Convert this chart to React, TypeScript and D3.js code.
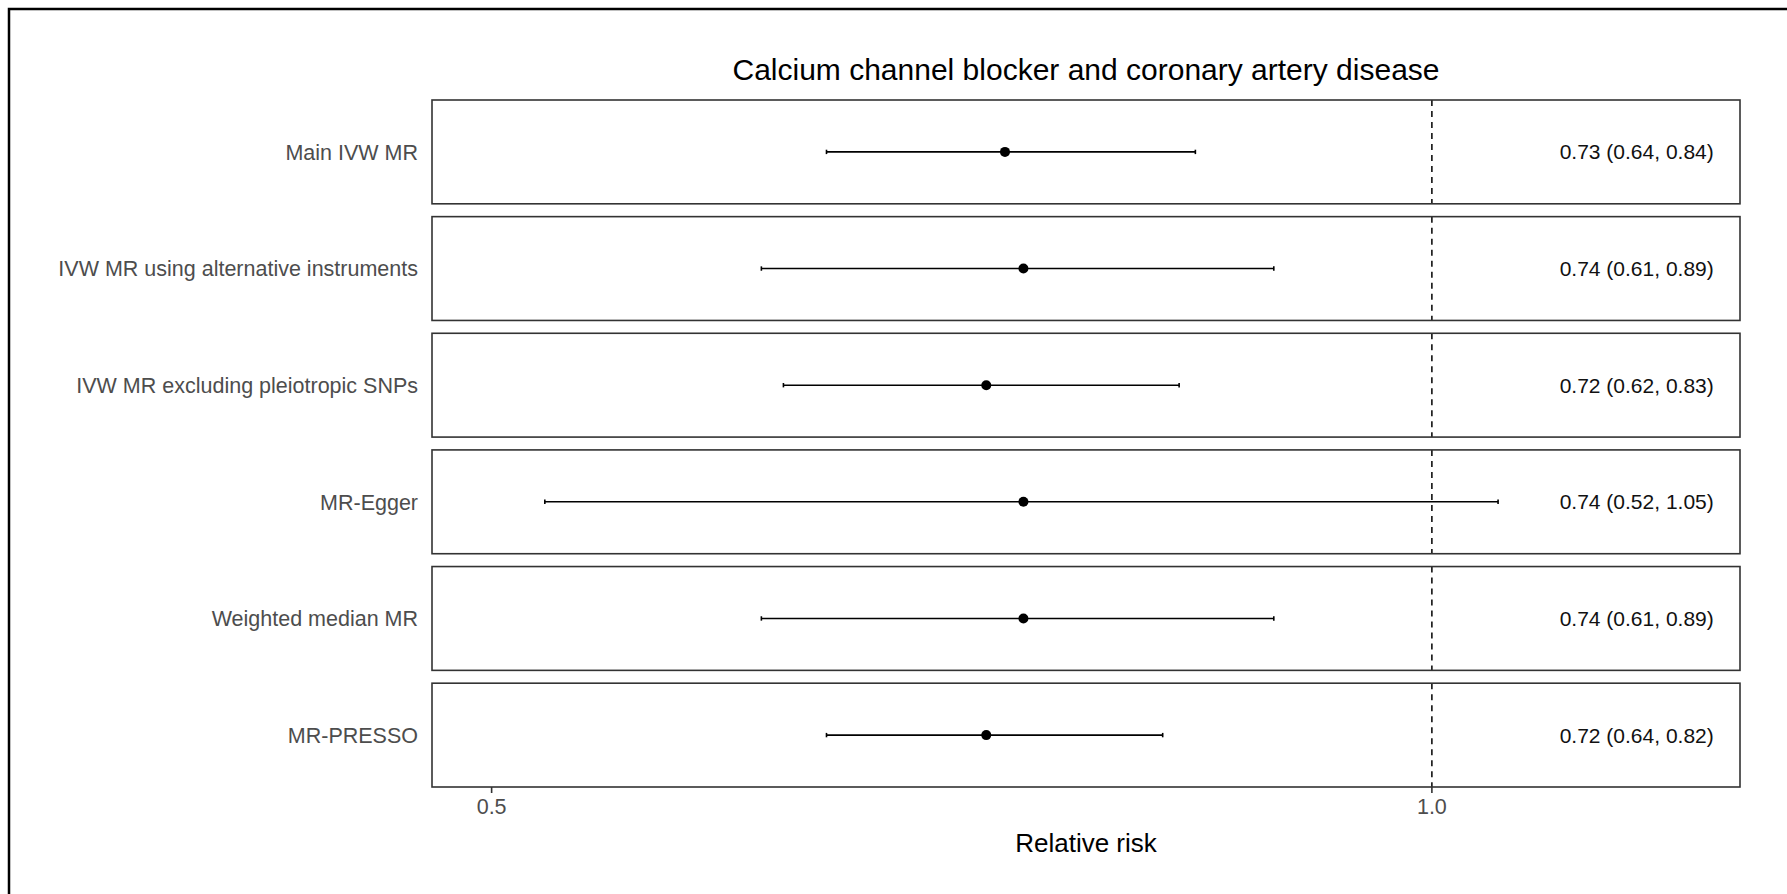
import React, { useEffect, useRef } from 'react';
import * as d3 from 'd3';

const methods = [
  'Main IVW MR',
  'IVW MR using alternative instruments',
  'IVW MR excluding pleiotropic SNPs',
  'MR-Egger',
  'Weighted median MR',
  'MR-PRESSO',
];
const estimates = [0.73, 0.74, 0.72, 0.74, 0.74, 0.72];
const lowerCI = [0.64, 0.61, 0.62, 0.52, 0.61, 0.64];
const upperCI = [0.84, 0.89, 0.83, 1.05, 0.89, 0.82];
const xTicks = [0.5, 1.0];
const xTickLabels = ['0.5', '1.0'];
const xDomain = [0.4785, 1.255];
const labelAt = 1.163;
const refLine = 1.0;

const title = 'Calcium channel blocker and coronary artery disease';
const xTitle = 'Relative risk';

const FONT = '"Liberation Sans", Arial, sans-serif';

const ForestPlot = () => {
  const ref = useRef<SVGSVGElement>(null);

  useEffect(() => {
    const svg = d3.select(ref.current);
    svg.selectAll('*').remove();

    const width = 1787, height = 894;
    const left = 432, right = 1740, top = 100, bottom = 787;

    svg.attr('width', width).attr('height', height);

    svg.append('rect')
      .attr('width', width).attr('height', height)
      .attr('fill', '#fff');

    // frame of the original image (only top / left edges visible)
    svg.append('rect')
      .attr('x', 9).attr('y', 9)
      .attr('width', width + 20).attr('height', height + 20)
      .attr('fill', 'none')
      .attr('stroke', '#000')
      .attr('stroke-width', 2.5);

    const x = d3.scaleLog().domain(xDomain).range([left, right]);
    const y = d3.scaleBand<string>()
      .domain(methods)
      .range([top, bottom])
      .paddingInner(0.11);

    const rows = methods.map((m, i) => ({
      method: m,
      est: estimates[i],
      lo: lowerCI[i],
      hi: upperCI[i],
    }));

    const panel = svg.selectAll('g.panel')
      .data(rows)
      .enter()
      .append('g')
      .attr('class', 'panel')
      .attr('transform', (d) => `translate(0, ${y(d.method)})`);

    const bw = y.bandwidth();

    panel.append('line')
      .attr('x1', x(refLine)).attr('x2', x(refLine))
      .attr('y1', 0).attr('y2', bw)
      .attr('stroke', '#000')
      .attr('stroke-width', 1.5)
      .attr('stroke-dasharray', '6,5');

    panel.append('line')
      .attr('x1', (d) => x(d.lo)).attr('x2', (d) => x(d.hi))
      .attr('y1', bw / 2).attr('y2', bw / 2)
      .attr('stroke', '#000')
      .attr('stroke-width', 1.6);

    ['lo', 'hi'].forEach((k) => {
      panel.append('line')
        .attr('x1', (d: any) => x(d[k])).attr('x2', (d: any) => x(d[k]))
        .attr('y1', bw / 2 - 2.2).attr('y2', bw / 2 + 2.2)
        .attr('stroke', '#000')
        .attr('stroke-width', 1.6);
    });

    panel.append('circle')
      .attr('cx', (d) => x(d.est))
      .attr('cy', bw / 2)
      .attr('r', 5)
      .attr('fill', '#000');

    panel.append('text')
      .attr('x', x(labelAt))
      .attr('y', bw / 2)
      .attr('dy', '0.36em')
      .attr('text-anchor', 'middle')
      .attr('font-family', FONT)
      .attr('font-size', 21)
      .attr('fill', '#111')
      .text((d) => `${d.est.toFixed(2)} (${d.lo.toFixed(2)}, ${d.hi.toFixed(2)})`);

    panel.append('rect')
      .attr('x', left).attr('y', 0)
      .attr('width', right - left).attr('height', bw)
      .attr('fill', 'none')
      .attr('stroke', '#333')
      .attr('stroke-width', 1.6);

    panel.append('text')
      .attr('x', left - 14)
      .attr('y', bw / 2)
      .attr('dy', '0.36em')
      .attr('text-anchor', 'end')
      .attr('font-family', FONT)
      .attr('font-size', 21.5)
      .attr('fill', '#4d4d4d')
      .text((d) => d.method);

    // x axis
    const axis = svg.append('g');
    xTicks.forEach((t, i) => {
      axis.append('line')
        .attr('x1', x(t)).attr('x2', x(t))
        .attr('y1', bottom).attr('y2', bottom + 6)
        .attr('stroke', '#333')
        .attr('stroke-width', 1.6);
      axis.append('text')
        .attr('x', x(t))
        .attr('y', bottom + 27)
        .attr('text-anchor', 'middle')
        .attr('font-family', FONT)
        .attr('font-size', 21.5)
        .attr('fill', '#4d4d4d')
        .text(xTickLabels[i]);
    });

    svg.append('text')
      .attr('x', (left + right) / 2)
      .attr('y', 852)
      .attr('text-anchor', 'middle')
      .attr('font-family', FONT)
      .attr('font-size', 26)
      .attr('fill', '#000')
      .text(xTitle);

    svg.append('text')
      .attr('x', (left + right) / 2)
      .attr('y', 80)
      .attr('text-anchor', 'middle')
      .attr('font-family', FONT)
      .attr('font-size', 30)
      .attr('fill', '#000')
      .text(title);
  }, []);

  return (
    <svg
      ref={ref}
      style={{ position: 'absolute', left: 0, top: 0, display: 'block' }}
    ></svg>
  );
};

export default function App() {
  return <ForestPlot />;
}
